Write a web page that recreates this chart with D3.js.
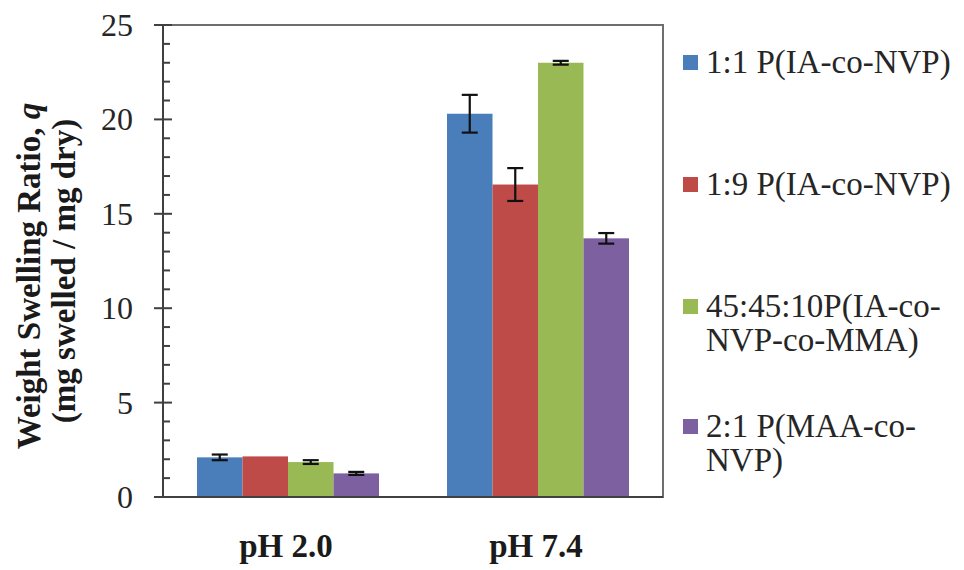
<!DOCTYPE html>
<html><head><meta charset="utf-8">
<script src="https://cdn.jsdelivr.net/npm/d3@7"></script>
<style>
svg text { font-family: "Liberation Serif" !important; }
</style>
</head>
<body style="margin:0">
<svg id="chart" width="964" height="570"></svg>
<script>
const categories = ["pH 2.0", "pH 7.4"];
const seriesNames = ["1:1 P(IA-co-NVP)", "1:9 P(IA-co-NVP)", "45:45:10P(IA-co-NVP-co-MMA)", "2:1 P(MAA-co-NVP)"];
const legendLines = [["1:1 P(IA-co-NVP)"], ["1:9 P(IA-co-NVP)"], ["45:45:10P(IA-co-", "NVP-co-MMA)"], ["2:1 P(MAA-co-", "NVP)"]];
const seriesColors = ["#4a7ebb", "#be4b48", "#98b954", "#7d60a0"];
const blueValues = [2.1, 20.3];
const redValues = [2.15, 16.55];
const greenValues = [1.85, 23.0];
const purpleValues = [1.25, 13.7];
const blueErrors = [0.15, 1.0];
const redErrors = [0, 0.87];
const greenErrors = [0.1, 0.1];
const purpleErrors = [0.08, 0.28];
const yTicks = [0, 5, 10, 15, 20, 25];

const values = [blueValues, redValues, greenValues, purpleValues];
const errors = [blueErrors, redErrors, greenErrors, purpleErrors];
const fontName = "Liberation Serif";

const svg = d3.select("#chart");
const pLeft = 163, pRight = 663, pTop = 25, pBottom = 497;

const x = d3.scaleBand().domain(categories).range([pLeft, pRight]).paddingInner(0.272).paddingOuter(0.136);
const xs = d3.scaleBand().domain(d3.range(seriesNames.length)).range([0, x.bandwidth()]).padding(0);
const y = d3.scaleLinear().domain([0, 25]).range([pBottom, pTop]);

// frame
svg.append("rect").attr("x", pLeft).attr("y", pTop).attr("width", pRight - pLeft).attr("height", pBottom - pTop)
  .attr("fill", "none").attr("stroke", "#6e6e6e").attr("stroke-width", 2);

// bars
const data = [];
categories.forEach((c, ci) => {
  seriesNames.forEach((s, si) => {
    data.push({c, si, v: values[si][ci], e: errors[si][ci]});
  });
});
svg.append("g").selectAll("rect").data(data).join("rect")
  .attr("x", d => x(d.c) + xs(d.si))
  .attr("y", d => y(d.v))
  .attr("width", xs.bandwidth())
  .attr("height", d => y(0) - y(d.v))
  .attr("fill", d => seriesColors[d.si]);

// error bars
const eg = svg.append("g").attr("stroke", "#111").attr("stroke-width", 2.2);
data.filter(d => d.e > 0).forEach(d => {
  const cx = x(d.c) + xs(d.si) + xs.bandwidth() / 2;
  eg.append("line").attr("x1", cx).attr("x2", cx).attr("y1", y(d.v + d.e)).attr("y2", y(d.v - d.e));
  eg.append("line").attr("x1", cx - 8).attr("x2", cx + 8).attr("y1", y(d.v + d.e)).attr("y2", y(d.v + d.e));
  eg.append("line").attr("x1", cx - 8).attr("x2", cx + 8).attr("y1", y(d.v - d.e)).attr("y2", y(d.v - d.e));
});

// y axis with minor ticks
const minor = d3.range(0, 25.001, 1).filter(v => v % 5 !== 0);
const ag = svg.append("g").attr("stroke", "#404040").attr("stroke-width", 2);
ag.append("line").attr("x1", pLeft).attr("x2", pLeft).attr("y1", pTop).attr("y2", pBottom);
ag.append("line").attr("x1", pLeft - 9).attr("x2", pRight).attr("y1", pBottom).attr("y2", pBottom);
ag.append("line").attr("x1", pLeft - 9).attr("x2", pLeft).attr("y1", pTop).attr("y2", pTop);
ag.selectAll(".maj").data(yTicks).join("line").attr("class", "maj")
  .attr("x1", pLeft - 9).attr("x2", pLeft + 9).attr("y1", d => y(d)).attr("y2", d => y(d));
ag.selectAll(".min").data(minor).join("line").attr("class", "min")
  .attr("x1", pLeft).attr("x2", pLeft + 7).attr("y1", d => y(d)).attr("y2", d => y(d));

// all texts appended directly on the svg root
yTicks.forEach(t => {
  svg.append("text")
    .style("font-family", `"${fontName}"`)
    .attr("x", 133).attr("y", y(t) + 11)
    .attr("text-anchor", "end").attr("font-size", 32).attr("fill", "#262626")
    .text(t);
});

categories.forEach(c => {
  svg.append("text")
    .style("font-family", `"${fontName}"`)
    .attr("x", x(c) + x.bandwidth() / 2 - 2).attr("y", 557)
    .attr("text-anchor", "middle").attr("font-size", 33).attr("font-weight", "bold").attr("fill", "#1a1a1a")
    .text(c);
});

const t1 = svg.append("text")
  .style("font-family", `"${fontName}"`)
  .attr("transform", "translate(40,276) rotate(-90)").attr("text-anchor", "middle")
  .attr("font-size", 33).attr("font-weight", "bold").attr("fill", "#1a1a1a");
t1.append("tspan").text("Weight Swelling Ratio, ");
t1.append("tspan").attr("font-style", "italic").text("q");
svg.append("text")
  .style("font-family", `"${fontName}"`)
  .attr("transform", "translate(75,271) rotate(-90)").attr("text-anchor", "middle")
  .attr("font-size", 33).attr("font-weight", "bold").attr("fill", "#1a1a1a")
  .text("(mg swelled / mg dry)");

// legend
const legendBaselines = [73, 195, 317, 437];
seriesNames.forEach((s, i) => {
  const by = legendBaselines[i];
  svg.append("rect").attr("x", 683).attr("y", by - 18).attr("width", 15).attr("height", 15).attr("fill", seriesColors[i]);
  legendLines[i].forEach((ln, j) => {
    svg.append("text")
      .style("font-family", `"${fontName}"`)
      .attr("x", 706).attr("y", by + j * 34)
      .attr("font-size", 33).attr("fill", "#262626")
      .text(ln);
  });
});
</script>
</body></html>
